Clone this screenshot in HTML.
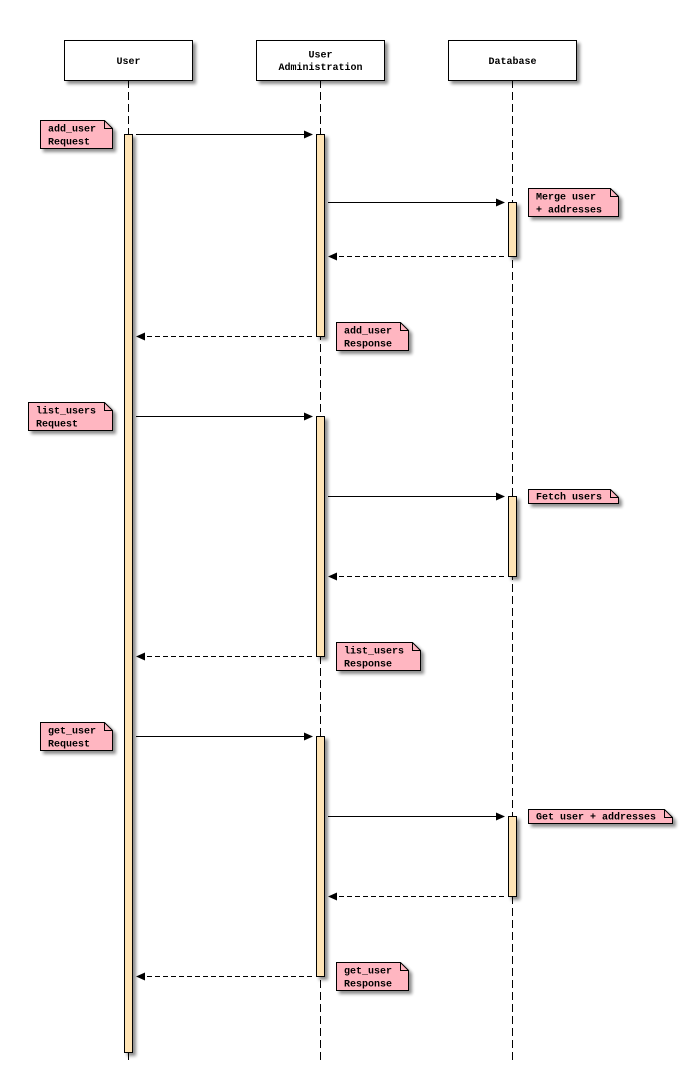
<!DOCTYPE html>
<html>
<head>
<meta charset="utf-8">
<style>
html,body{margin:0;padding:0;background:#fff;}
svg{display:block;}
text{font-family:"Liberation Mono","DejaVu Sans Mono",monospace;font-size:10px;font-weight:bold;fill:#000;}
</style>
</head>
<body>
<svg width="688" height="1080" viewBox="0 0 688 1080" xmlns="http://www.w3.org/2000/svg">
<defs>
<filter id="sh" x="-20%" y="-20%" width="150%" height="160%">
<feGaussianBlur in="SourceAlpha" stdDeviation="1.6"/>
<feOffset dx="3" dy="3" result="b"/>
<feComponentTransfer><feFuncA type="linear" slope="0.45"/></feComponentTransfer>
<feMerge><feMergeNode/><feMergeNode in="SourceGraphic"/></feMerge>
</filter>
</defs>

<!-- header boxes -->
<g stroke="#000" stroke-width="1" fill="#fff" filter="url(#sh)">
<rect x="64.5" y="40.5" width="128" height="40"/>
<rect x="256.5" y="40.5" width="128" height="40"/>
<rect x="448.5" y="40.5" width="128" height="40"/>
</g>
<text x="128.5" y="64" text-anchor="middle">User</text>
<text x="320.5" y="57.5" text-anchor="middle">User</text>
<text x="320.5" y="70" text-anchor="middle">Administration</text>
<text x="512.5" y="64" text-anchor="middle">Database</text>

<!-- lifelines -->
<g stroke="#000" stroke-width="1" stroke-dasharray="8 4">
<line x1="128.5" y1="80" x2="128.5" y2="1060"/>
<line x1="320.5" y1="80" x2="320.5" y2="1060"/>
<line x1="512.5" y1="80" x2="512.5" y2="1060"/>
</g>

<!-- activation bars -->
<g stroke="#000" stroke-width="1" fill="#FFE4B5" filter="url(#sh)">
<rect x="124.5" y="134.5" width="8" height="918"/>
<rect x="316.5" y="134.5" width="8" height="202"/>
<rect x="316.5" y="416.5" width="8" height="240"/>
<rect x="316.5" y="736.5" width="8" height="240"/>
<rect x="508.5" y="202.5" width="8" height="54"/>
<rect x="508.5" y="496.5" width="8" height="80"/>
<rect x="508.5" y="816.5" width="8" height="80"/>
</g>

<!-- solid messages -->
<g stroke="#000" stroke-width="1">
<line x1="136" y1="134.5" x2="306" y2="134.5"/>
<line x1="328" y1="202.5" x2="498" y2="202.5"/>
<line x1="136" y1="416.5" x2="306" y2="416.5"/>
<line x1="328" y1="496.5" x2="498" y2="496.5"/>
<line x1="136" y1="736.5" x2="306" y2="736.5"/>
<line x1="328" y1="816.5" x2="498" y2="816.5"/>
</g>
<g fill="#000">
<polygon points="313,134.5 304,130.5 304,138.5"/>
<polygon points="505,202.5 496,198.5 496,206.5"/>
<polygon points="313,416.5 304,412.5 304,420.5"/>
<polygon points="505,496.5 496,492.5 496,500.5"/>
<polygon points="313,736.5 304,732.5 304,740.5"/>
<polygon points="505,816.5 496,812.5 496,820.5"/>
</g>

<!-- dashed returns -->
<g stroke="#000" stroke-width="1" stroke-dasharray="5 3">
<line x1="504" y1="256.5" x2="336" y2="256.5"/>
<line x1="312" y1="336.5" x2="144" y2="336.5"/>
<line x1="504" y1="576.5" x2="336" y2="576.5"/>
<line x1="312" y1="656.5" x2="144" y2="656.5"/>
<line x1="504" y1="896.5" x2="336" y2="896.5"/>
<line x1="312" y1="976.5" x2="144" y2="976.5"/>
</g>
<g fill="#000">
<polygon points="328,256.5 337,252.5 337,260.5"/>
<polygon points="136,336.5 145,332.5 145,340.5"/>
<polygon points="328,576.5 337,572.5 337,580.5"/>
<polygon points="136,656.5 145,652.5 145,660.5"/>
<polygon points="328,896.5 337,892.5 337,900.5"/>
<polygon points="136,976.5 145,972.5 145,980.5"/>
</g>

<!-- notes -->
<g stroke="#000" stroke-width="1" fill="#FFB6C1">
<!-- add_user Request 40,120 72x28 -->
<polygon filter="url(#sh)" points="40.5,120.5 104.5,120.5 112.5,128.5 112.5,148.5 40.5,148.5"/>
<polyline fill="none" points="104.5,120.5 104.5,128.5 112.5,128.5"/>
<!-- Merge user 528,188 90x28 -->
<polygon filter="url(#sh)" points="528.5,188.5 610.5,188.5 618.5,196.5 618.5,216.5 528.5,216.5"/>
<polyline fill="none" points="610.5,188.5 610.5,196.5 618.5,196.5"/>
<!-- add_user Response 336,322 72x28 -->
<polygon filter="url(#sh)" points="336.5,322.5 400.5,322.5 408.5,330.5 408.5,350.5 336.5,350.5"/>
<polyline fill="none" points="400.5,322.5 400.5,330.5 408.5,330.5"/>
<!-- list_users Request 28,402 84x28 -->
<polygon filter="url(#sh)" points="28.5,402.5 104.5,402.5 112.5,410.5 112.5,430.5 28.5,430.5"/>
<polyline fill="none" points="104.5,402.5 104.5,410.5 112.5,410.5"/>
<!-- Fetch users 528,489 90x15 -->
<polygon filter="url(#sh)" points="528.5,489.5 610.5,489.5 618.5,497.5 618.5,503.5 528.5,503.5"/>
<polyline fill="none" points="610.5,489.5 610.5,497.5 618.5,497.5"/>
<!-- list_users Response 336,642 84x28 -->
<polygon filter="url(#sh)" points="336.5,642.5 412.5,642.5 420.5,650.5 420.5,670.5 336.5,670.5"/>
<polyline fill="none" points="412.5,642.5 412.5,650.5 420.5,650.5"/>
<!-- get_user Request 40,722 72x28 -->
<polygon filter="url(#sh)" points="40.5,722.5 104.5,722.5 112.5,730.5 112.5,750.5 40.5,750.5"/>
<polyline fill="none" points="104.5,722.5 104.5,730.5 112.5,730.5"/>
<!-- Get user + addresses 528,809 144x15 -->
<polygon filter="url(#sh)" points="528.5,809.5 664.5,809.5 672.5,817.5 672.5,823.5 528.5,823.5"/>
<polyline fill="none" points="664.5,809.5 664.5,817.5 672.5,817.5"/>
<!-- get_user Response 336,962 72x28 -->
<polygon filter="url(#sh)" points="336.5,962.5 400.5,962.5 408.5,970.5 408.5,990.5 336.5,990.5"/>
<polyline fill="none" points="400.5,962.5 400.5,970.5 408.5,970.5"/>
</g>

<text x="48" y="131.5">add_user</text>
<text x="48" y="144.5">Request</text>

<text x="536" y="199.5">Merge user</text>
<text x="536" y="212.5">+ addresses</text>

<text x="344" y="333.5">add_user</text>
<text x="344" y="346.5">Response</text>

<text x="36" y="413.5">list_users</text>
<text x="36" y="426.5">Request</text>

<text x="536" y="499.5">Fetch users</text>

<text x="344" y="653.5">list_users</text>
<text x="344" y="666.5">Response</text>

<text x="48" y="733.5">get_user</text>
<text x="48" y="746.5">Request</text>

<text x="536" y="819.5">Get user + addresses</text>

<text x="344" y="973.5">get_user</text>
<text x="344" y="986.5">Response</text>
</svg>
</body>
</html>
